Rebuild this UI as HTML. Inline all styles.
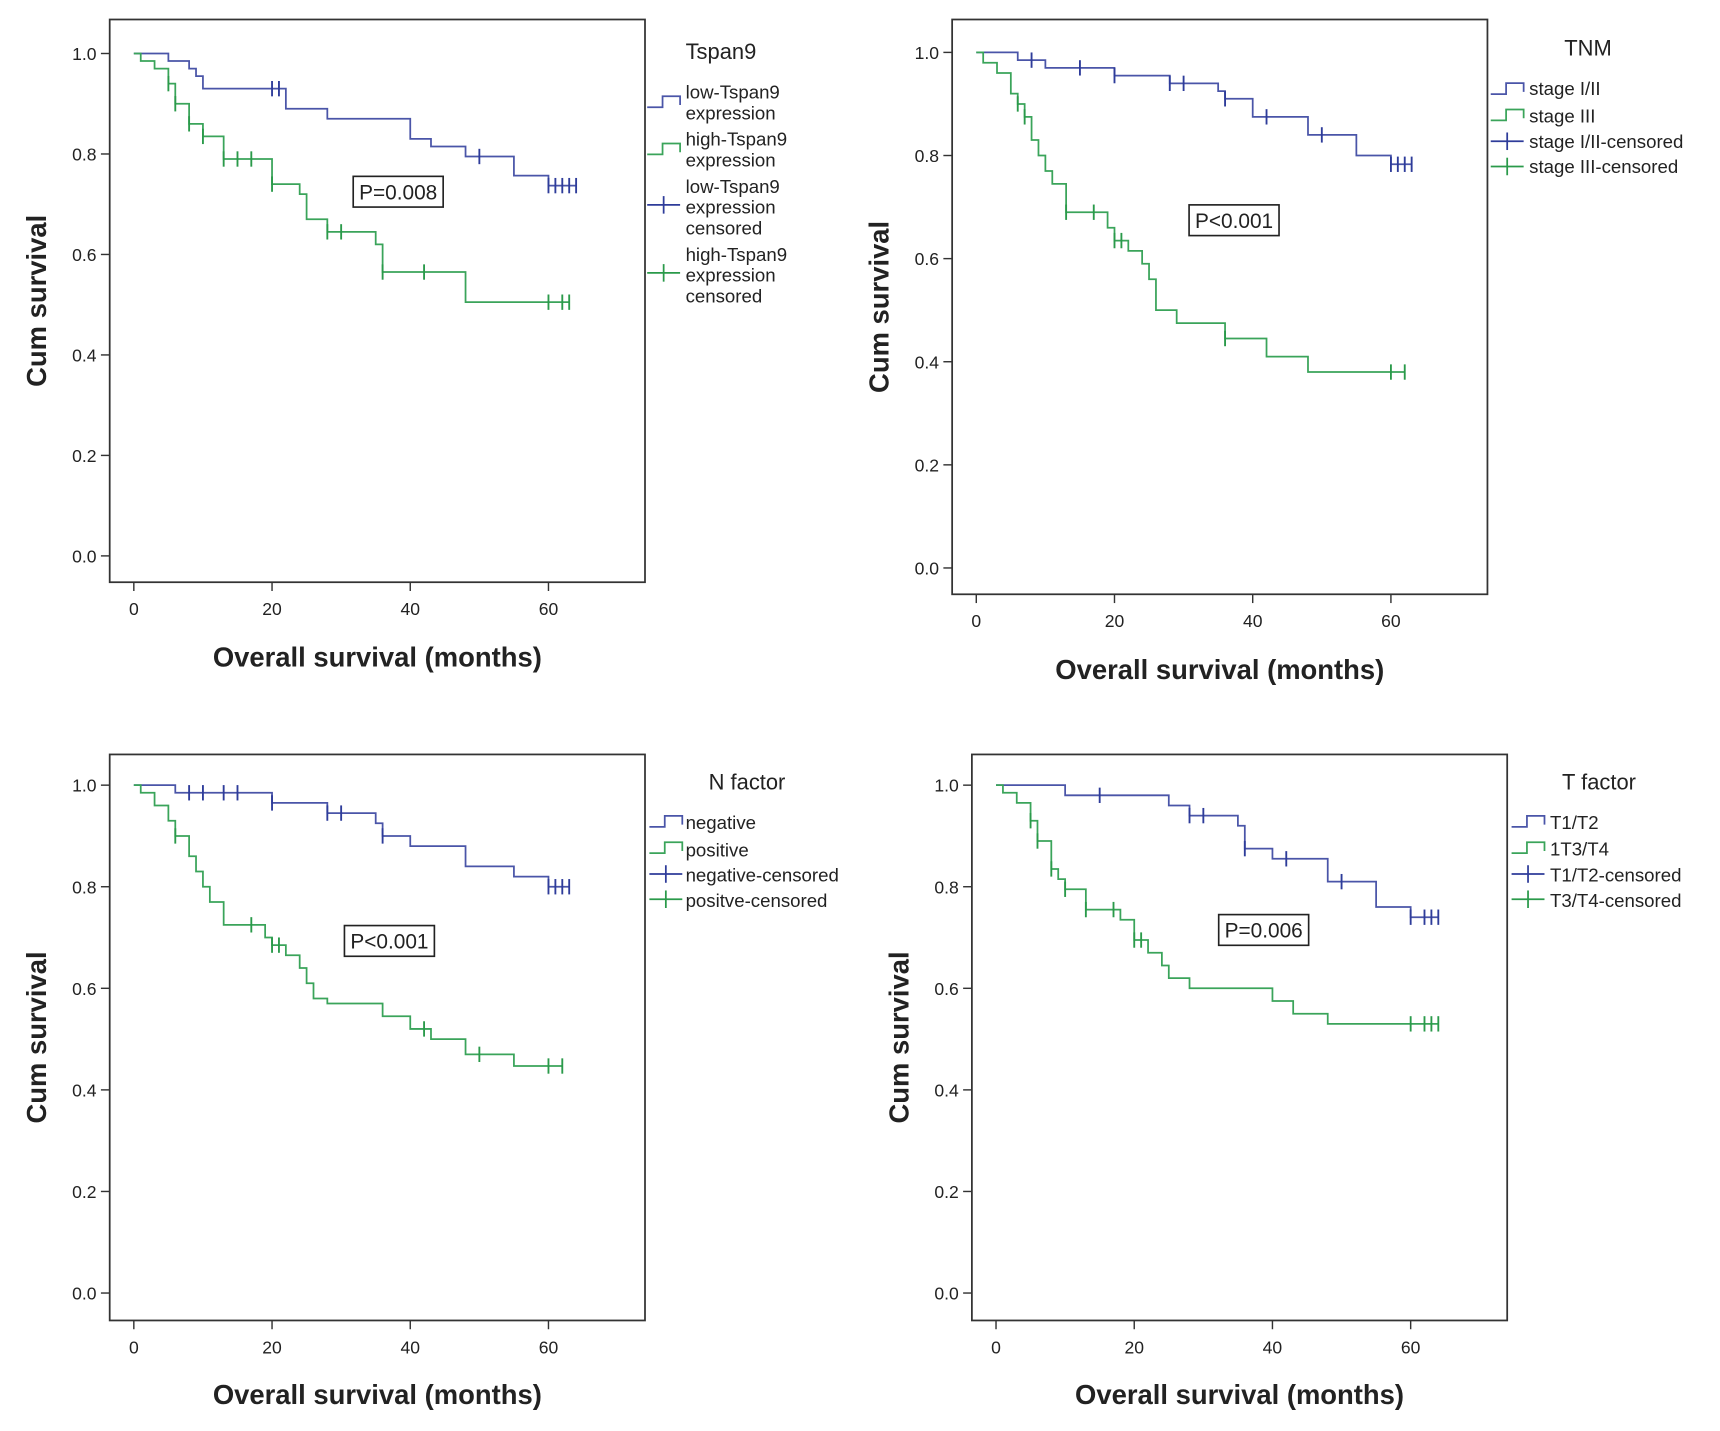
<!DOCTYPE html>
<html><head><meta charset="utf-8"><style>
html,body{margin:0;padding:0;background:#fff}
svg{display:block}
text{font-family:"Liberation Sans",Arial,sans-serif;fill:#222}
</style></head><body>
<svg id="fig" width="1720" height="1431" viewBox="0 0 1568 1303" xmlns="http://www.w3.org/2000/svg"></svg>
<script>
// ---- Panel 1: Tspan9 ----
const p1LowT=[5,8,9,10,22,28,40,43,48,55,60];
const p1LowS=[0.985,0.97,0.955,0.93,0.89,0.87,0.83,0.815,0.795,0.757,0.737];
const p1LowC=[20,21,50,60,61,62,63,64];
const p1HighT=[1,3,5,6,8,10,13,20,24,25,28,35,36,48];
const p1HighS=[0.985,0.97,0.94,0.9,0.86,0.835,0.79,0.74,0.72,0.67,0.645,0.62,0.565,0.505];
const p1HighC=[5,6,8,10,13,15,17,20,28,30,36,42,60,62,63];
// ---- Panel 2: TNM ----
const p2LowT=[6,10,20,28,35,36,40,48,55,60];
const p2LowS=[0.985,0.97,0.955,0.94,0.925,0.91,0.875,0.84,0.8,0.783];
const p2LowC=[8,15,20,28,30,36,42,50,60,61,62,63];
const p2HighT=[1,3,5,6,7,8,9,10,11,13,19,20,22,24,25,26,29,36,42,48];
const p2HighS=[0.98,0.96,0.92,0.9,0.875,0.83,0.8,0.77,0.745,0.69,0.66,0.635,0.615,0.59,0.56,0.5,0.475,0.445,0.41,0.38];
const p2HighC=[6,7,13,17,20,21,36,60,62];
// ---- Panel 3: N factor ----
const p3LowT=[6,20,28,35,36,40,48,55,60];
const p3LowS=[0.985,0.965,0.945,0.925,0.9,0.88,0.84,0.82,0.8];
const p3LowC=[8,10,13,15,20,28,30,36,60,61,62,63];
const p3HighT=[1,3,5,6,8,9,10,11,13,19,20,22,24,25,26,28,36,40,43,48,55];
const p3HighS=[0.985,0.96,0.93,0.9,0.86,0.83,0.8,0.77,0.725,0.7,0.685,0.665,0.64,0.61,0.58,0.57,0.545,0.52,0.5,0.47,0.447];
const p3HighC=[6,17,20,21,42,50,60,62];
// ---- Panel 4: T factor ----
const p4LowT=[10,25,28,35,36,40,48,55,60];
const p4LowS=[0.98,0.96,0.94,0.92,0.875,0.855,0.81,0.76,0.74];
const p4LowC=[15,28,30,36,42,50,60,62,63,64];
const p4HighT=[1,3,5,6,8,9,10,13,18,20,22,24,25,28,40,43,48];
const p4HighS=[0.985,0.965,0.93,0.89,0.835,0.815,0.795,0.755,0.735,0.695,0.67,0.645,0.62,0.6,0.575,0.55,0.53];
const p4HighC=[5,6,8,10,13,17,20,21,60,62,63,64];
const yTicks=[0,0.2,0.4,0.6,0.8,1.0];
const xTicks=[0,20,40,60];

const NS="http://www.w3.org/2000/svg";
const svg=document.getElementById('fig');
const BLUE="#4a55a8", BLUEC="#2e3c9a", GREEN="#3aa45a", GREENC="#2a9a4a";
function mk(tag,attrs,parent){const e=document.createElementNS(NS,tag);for(const k in attrs)e.setAttribute(k,attrs[k]);(parent||svg).appendChild(e);return e;}

const panels=[
 {name:'tspan9',fx0:100,fx1:588,fy0:17,fy1:530,x0:122,x60:500,y1:48,y0:506,tickY:560,titleY:607,ytx:42,
  lt:[p1LowT,p1LowS,p1LowC],ht:[p1HighT,p1HighS,p1HighC],p:'P=0.008',pb:[322,160,82,28]},
 {name:'tnm',fx0:868,fx1:1356,fy0:17,fy1:541,x0:890,x60:1268,y1:47,y0:517,tickY:571,titleY:618,ytx:810,
  lt:[p2LowT,p2LowS,p2LowC],ht:[p2HighT,p2HighS,p2HighC],p:'P<0.001',pb:[1084,186,82,28]},
 {name:'n-factor',fx0:100,fx1:588,fy0:687,fy1:1203,x0:122,x60:500,y1:715,y0:1178,tickY:1233,titleY:1279,ytx:42,
  lt:[p3LowT,p3LowS,p3LowC],ht:[p3HighT,p3HighS,p3HighC],p:'P<0.001',pb:[314,843,82,28]},
 {name:'t-factor',fx0:886,fx1:1374,fy0:687,fy1:1203,x0:908,x60:1286,y1:715,y0:1178,tickY:1233,titleY:1279,ytx:828,
  lt:[p4LowT,p4LowS,p4LowC],ht:[p4HighT,p4HighS,p4HighC],p:'P=0.006',pb:[1111,833,82,28]}
];

function survAt(T,S,t){let s=1;for(let i=0;i<T.length;i++){if(T[i]<=t)s=S[i];}return s;}

panels.forEach(P=>{
  const g=mk('g',{});
  
  
  const X=t=>P.x0+(P.x60-P.x0)*t/60;
  const Y=s=>P.y0-(P.y0-P.y1)*s;
  const fr=mk('rect',{x:P.fx0,y:P.fy0,width:P.fx1-P.fx0,height:P.fy1-P.fy0,fill:'none',stroke:'#333','stroke-width':1.6},g);
  
  
  yTicks.forEach(v=>{
    mk('line',{x1:P.fx0-8,x2:P.fx0,y1:Y(v),y2:Y(v),stroke:'#333','stroke-width':1.3},g);
    const t=mk('text',{x:P.fx0-12,y:Y(v)+6,'text-anchor':'end','font-size':16},g);
    t.textContent=v.toFixed(1);
    
    
  });
  xTicks.forEach(v=>{
    mk('line',{x1:X(v),x2:X(v),y1:P.fy1,y2:P.fy1+8,stroke:'#333','stroke-width':1.3},g);
    const t=mk('text',{x:X(v),y:P.tickY,'text-anchor':'middle','font-size':16},g);
    t.textContent=v;
    
    
  });
  const xt=mk('text',{x:(P.fx0+P.fx1)/2,y:P.titleY,'text-anchor':'middle','font-size':25,'font-weight':'bold'},g);
  xt.textContent='Overall survival (months)';
  
  
  const cy=(P.fy0+P.fy1)/2;
  const yt=mk('text',{x:P.ytx,y:cy,'text-anchor':'middle','font-size':25,'font-weight':'bold',transform:`rotate(-90 ${P.ytx} ${cy})`},g);
  yt.textContent='Cum survival';
  
  
  [[P.lt,BLUE,BLUEC,'low'],[P.ht,GREEN,GREENC,'high']].forEach(([d,col,colc,nm])=>{
    const [T,S,C]=d;
    let path=`M${X(0)},${Y(1)}`;
    for(let i=0;i<T.length;i++){path+=` H${X(T[i])} V${Y(S[i])}`;}
    const end=Math.max(...C,T[T.length-1]);
    path+=` H${X(end)}`;
    const pe=mk('path',{d:path,fill:'none',stroke:col,'stroke-width':1.6},g);
    
    
    C.forEach(c=>{
      const v=survAt(T,S,c);
      const m=mk('line',{x1:X(c),x2:X(c),y1:Y(v)-7,y2:Y(v)+7,stroke:colc,'stroke-width':1.7},g);
      
      
    });
  });
  const [bx,by,bw,bh]=P.pb;
  const pr=mk('rect',{x:bx,y:by,width:bw,height:bh,fill:'#fff',stroke:'#222','stroke-width':1.5},g);
  
  
  const pt=mk('text',{x:bx+bw/2,y:by+21,'text-anchor':'middle','font-size':19},g);
  pt.textContent=P.p;
  
  
});

function legendIcon(x,y,col,type){
  if(type==='step'){
    mk('path',{d:`M${x},${y+5} H${x+14} V${y-5} H${x+30} V${y+3}`,fill:'none',stroke:col,'stroke-width':1.6});
  }else{
    mk('line',{x1:x,x2:x+30,y1:y,y2:y,stroke:col,'stroke-width':1.6});
    mk('line',{x1:x+15,x2:x+15,y1:y-8,y2:y+8,stroke:col,'stroke-width':1.6});
  }
}
function legend(name,title,tx,ty,ix,txX,entries){
  const t=mk('text',{x:tx,y:ty,'font-size':20});
  t.textContent=title;
  
  
  entries.forEach(e=>{
    legendIcon(ix,e.iy,e.col,e.type);
    e.lines.forEach((ln,i)=>{
      const tt=mk('text',{x:txX,y:e.by+i*19,'font-size':17});
      tt.textContent=ln;
      
      
    });
  });
}
legend('tspan9','Tspan9',625,53,590,625,[
 {iy:92,col:BLUE,type:'step',lines:['low-Tspan9','expression'],by:89},
 {iy:135,col:GREEN,type:'step',lines:['high-Tspan9','expression'],by:132},
 {iy:186,col:BLUEC,type:'plus',lines:['low-Tspan9','expression','censored'],by:175},
 {iy:248,col:GREENC,type:'plus',lines:['high-Tspan9','expression','censored'],by:237}]);
legend('tnm','TNM',1426,50,1359,1394,[
 {iy:80,col:BLUE,type:'step',lines:['stage I/II'],by:86},
 {iy:104,col:GREEN,type:'step',lines:['stage III'],by:111},
 {iy:128,col:BLUEC,type:'plus',lines:['stage I/II-censored'],by:134},
 {iy:151,col:GREENC,type:'plus',lines:['stage III-censored'],by:157}]);
legend('n-factor','N factor',646,719,592,625,[
 {iy:748,col:BLUE,type:'step',lines:['negative'],by:755},
 {iy:772,col:GREEN,type:'step',lines:['positive'],by:780},
 {iy:796,col:BLUEC,type:'plus',lines:['negative-censored'],by:803},
 {iy:819,col:GREENC,type:'plus',lines:['positve-censored'],by:826}]);
legend('t-factor','T factor',1424,719,1378,1413,[
 {iy:748,col:BLUE,type:'step',lines:['T1/T2'],by:755},
 {iy:772,col:GREEN,type:'step',lines:['1T3/T4'],by:779},
 {iy:796,col:BLUEC,type:'plus',lines:['T1/T2-censored'],by:803},
 {iy:819,col:GREENC,type:'plus',lines:['T3/T4-censored'],by:826}]);
</script>
</body></html>
